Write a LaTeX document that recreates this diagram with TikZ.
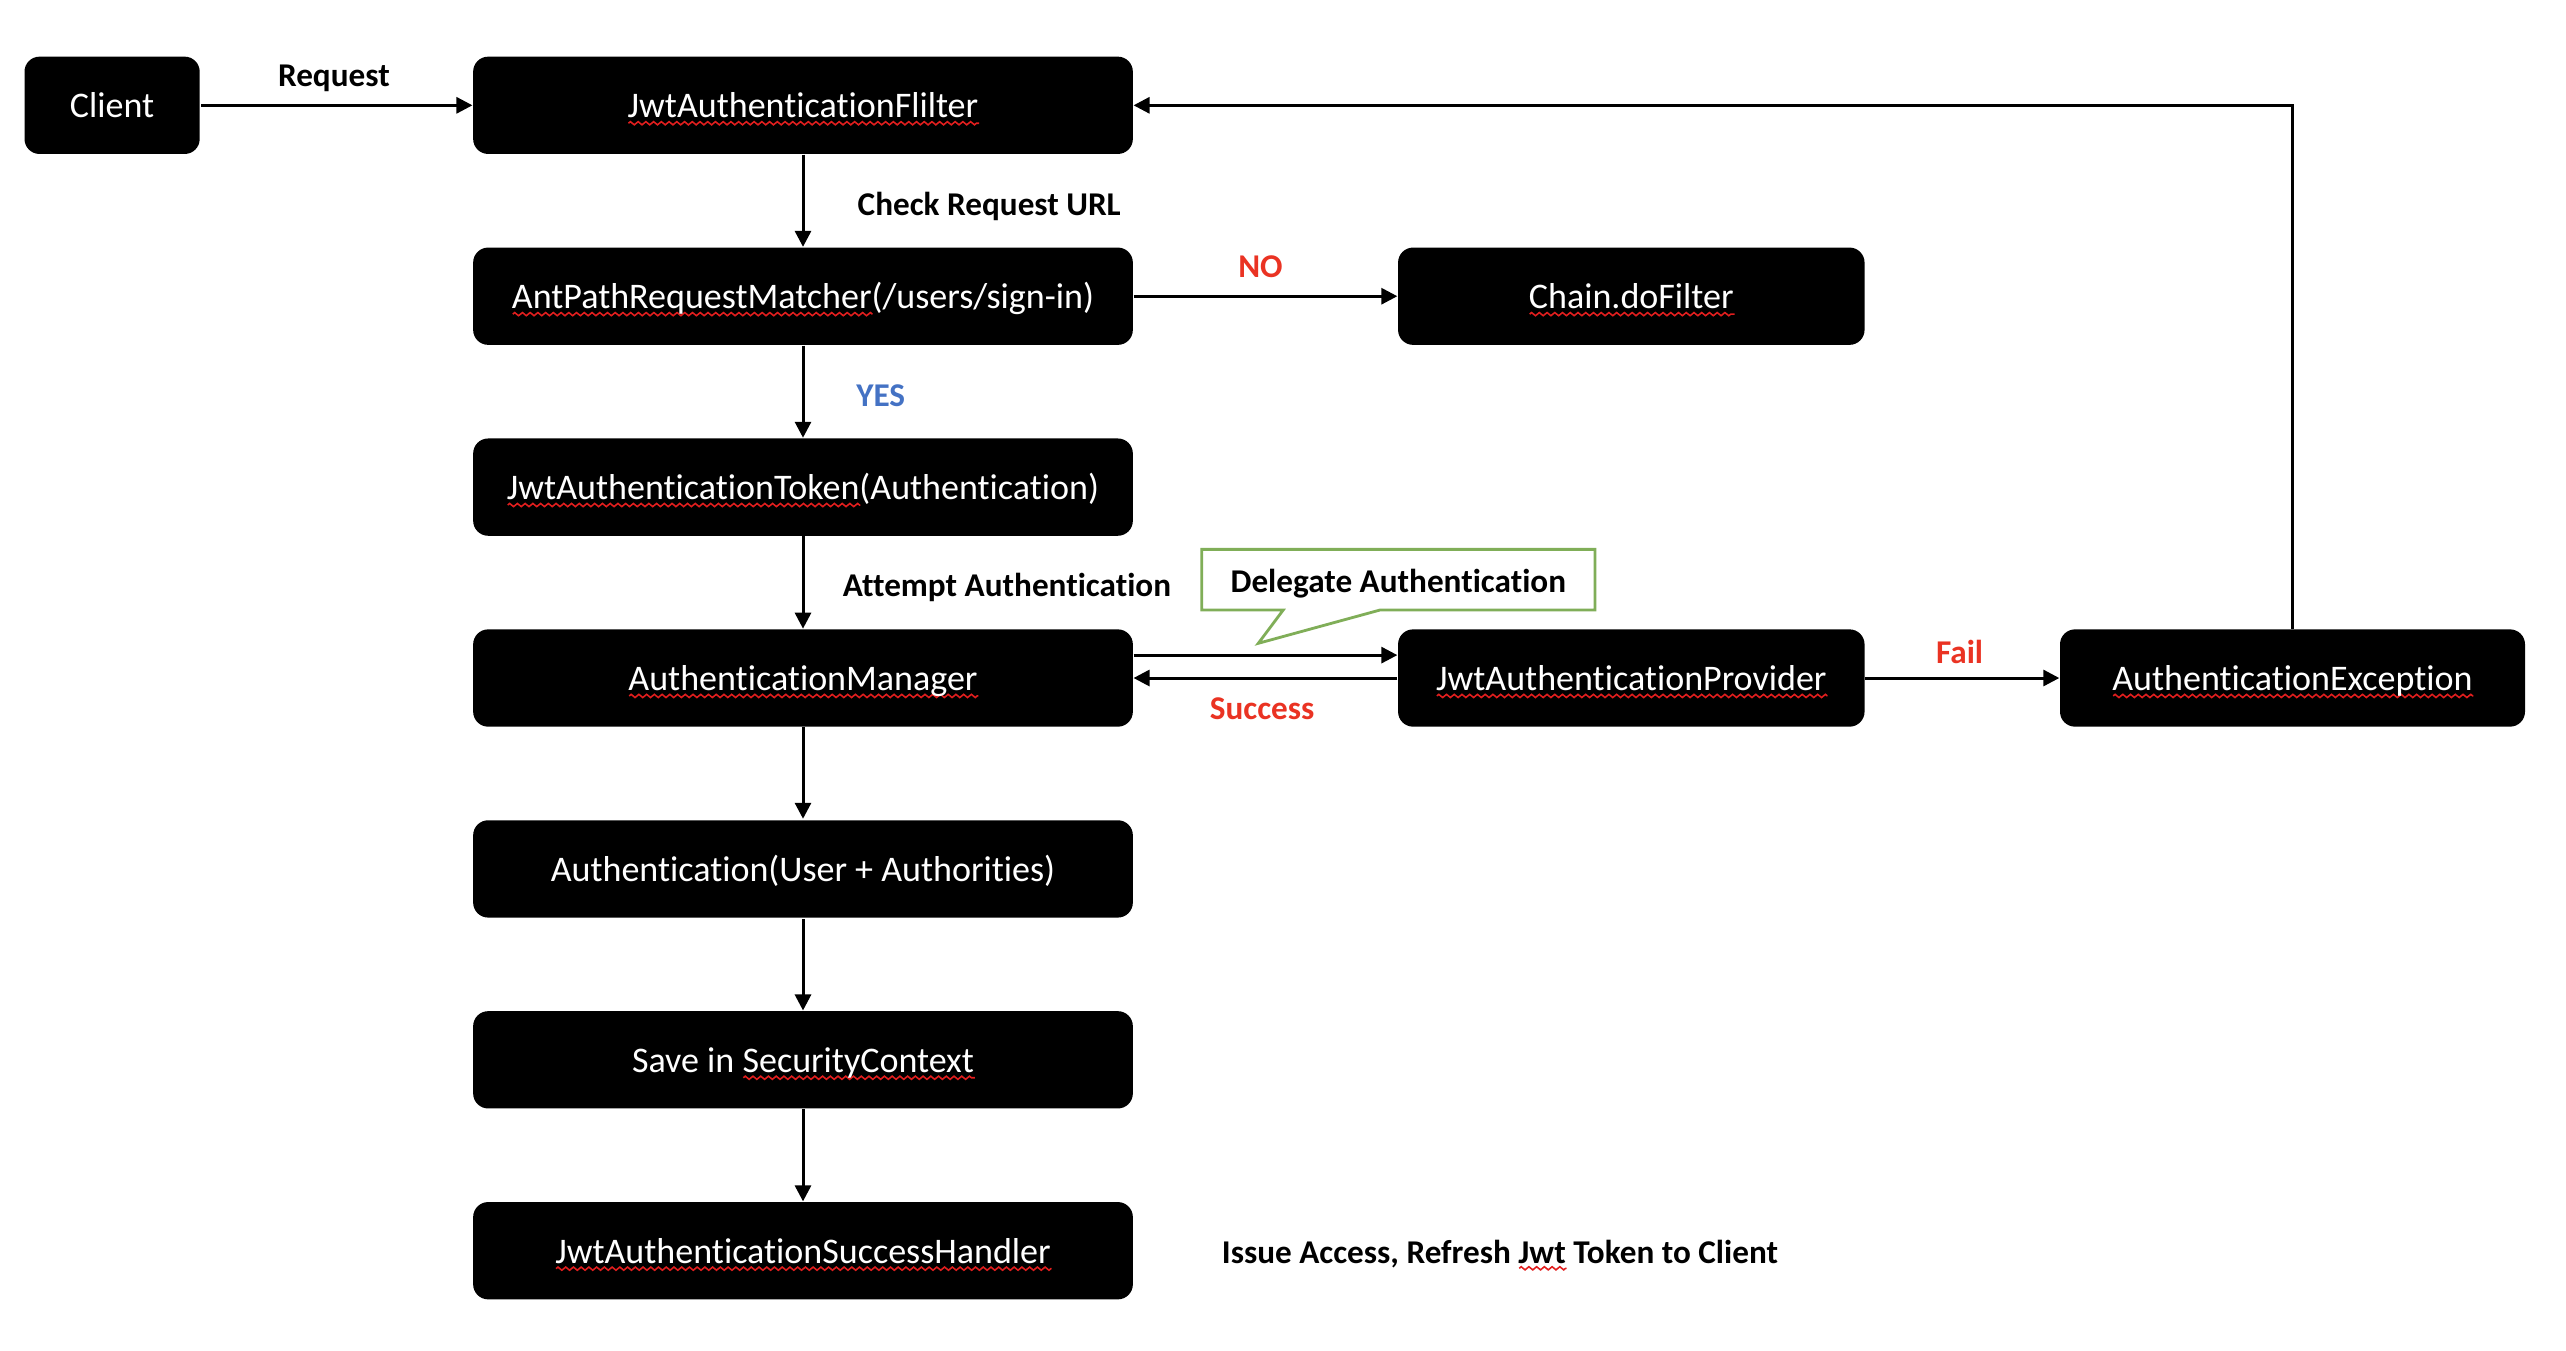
\documentclass[tikz,border=0pt]{standalone}
\usepackage{fontspec}
\setmainfont{Carlito}[Ligatures=NoCommon]
\usetikzlibrary{arrows.meta,shapes.callouts,decorations.pathmorphing}
\definecolor{typored}{RGB}{225,30,30}
\definecolor{nored}{RGB}{234,51,35}
\definecolor{yesblue}{RGB}{68,114,196}
\definecolor{calloutgreen}{RGB}{128,174,88}
\newsavebox\typobox
\newlength\typolen
\newcommand\typo[1]{\sbox\typobox{#1}\setlength\typolen{\wd\typobox}\rlap{\tikz[baseline=0pt]\draw[typored, line width=0.45pt, sharp corners, decorate, decoration={zigzag, amplitude=0.45pt, segment length=2.2pt}] (0,-1.5pt) -- (\typolen,-1.5pt);}\usebox\typobox}
\begin{document}
\begin{tikzpicture}[line width=0.85pt, >={Triangle[length=0.16cm,width=0.16cm]}]
\tikzstyle{every node}+=[font=\fontsize{10.25}{12}\selectfont]
\tikzstyle{box}=[fill=black, text=white, rounded corners=0.15cm, minimum width=6.597cm, minimum height=0.973cm, text height=7.2pt, text depth=0pt, inner sep=0pt]
\tikzstyle{lbl}=[font=\fontsize{9.45}{12}\selectfont\bfseries, text height=7pt, text depth=0pt, inner sep=0pt]
\useasboundingbox (0,0) rectangle (25.66,-13.5);
\node [box, minimum width=1.752cm] (client) at (1.121,-1.053) {Client};
\node [box] (filter) at (8.030,-1.053) {\typo{JwtAuthenticationFlilter}};
\node [box] (matcher) at (8.030,-2.962) {\typo{AntPathRequestMatcher}(/users/sign-in)};
\node [box, minimum width=4.665cm] (chain) at (16.313,-2.962) {\typo{Chain.doFilter}};
\node [box] (token) at (8.030,-4.871) {\typo{JwtAuthenticationToken}(Authentication)};
\node [box] (manager) at (8.030,-6.780) {\typo{AuthenticationManager}};
\node [box, minimum width=4.665cm] (provider) at (16.313,-6.780) {\typo{JwtAuthenticationProvider}};
\node [box, minimum width=4.65cm] (exception) at (22.925,-6.780) {\typo{AuthenticationException}};
\node [box] (auth) at (8.030,-8.689) {Authentication(User + Authorities)};
\node [box] (save) at (8.030,-10.598) {Save in \typo{SecurityContext}};
\node [box] (handler) at (8.030,-12.507) {\typo{JwtAuthenticationSuccessHandler}};
\node [lbl] (request) at (3.339,-0.737) {Request};
\node [lbl, anchor=west] (check) at (8.562,-2.030) {Check Request URL};
\node [lbl, text=nored] (no) at (12.605,-2.652) {NO};
\node [lbl, text=yesblue] (yes) at (8.807,-3.945) {YES};
\node [lbl, anchor=west] (attempt) at (8.414,-5.844) {Attempt Authentication};
\coordinate (tip) at (12.583,-6.433);
\node [lbl, rectangle callout, draw=calloutgreen, fill=white, line width=0.8pt, minimum width=3.933cm, minimum height=0.607cm, callout absolute pointer={(tip)}, callout pointer width=0.967cm] (delegate) at (13.983,-5.797) {Delegate Authentication};
\node [lbl, text=nored] (success) at (12.621,-7.072) {Success};
\node [lbl, text=nored] (fail) at (19.595,-6.515) {Fail};
\node [lbl, anchor=west] (issue) at (12.212,-12.507) {Issue Access, Refresh \typo{Jwt} Token to Client};
\draw [->] (client) -- (filter);
\draw [->] (filter) -- (matcher);
\draw [->] (matcher) -- (chain);
\draw [->] (matcher) -- (token);
\draw [->] (token) -- (manager);
\draw [->] ([yshift=0.229cm]manager.east) -- ([yshift=0.229cm]provider.west);
\draw [->] (provider.west) -- (manager.east);
\draw [->] (provider) -- (exception);
\draw [->] (exception.north) |- (filter.east);
\draw [->] (manager) -- (auth);
\draw [->] (auth) -- (save);
\draw [->] (save) -- (handler);
\end{tikzpicture}
\end{document}
